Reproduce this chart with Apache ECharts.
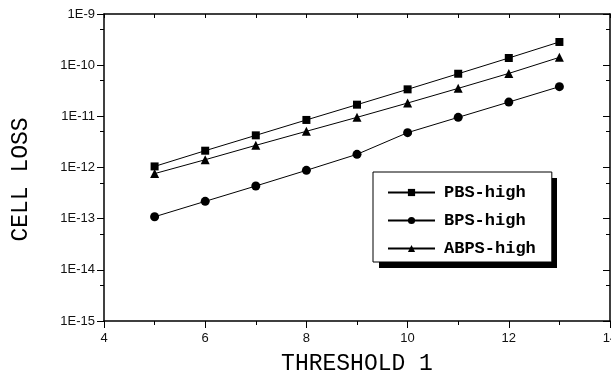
<!DOCTYPE html>
<html>
<head>
<meta charset="utf-8">
<script src="https://cdn.jsdelivr.net/npm/echarts@6/dist/echarts.min.js"></script>
<style>
  html, body { margin: 0; padding: 0; background: #fff; }
  #chart { width: 611px; height: 377px; }
</style>
</head>
<body>
<div id="chart"></div>
<script>
// Threshold values on the x axis
const thresholds = [5, 6, 7, 8, 9, 10, 11, 12, 13];

// Cell loss probability per scheme
const pbsHigh  = [1.05e-12, 2.13e-12, 4.25e-12, 8.5e-12, 1.69e-11, 3.37e-11, 6.8e-11, 1.38e-10, 2.84e-10];
const bpsHigh  = [1.09e-13, 2.18e-13, 4.35e-13, 8.8e-13, 1.81e-12, 4.8e-12, 9.55e-12, 1.9e-11, 3.8e-11];
const abpsHigh = [7.6e-13, 1.42e-12, 2.71e-12, 5.1e-12, 9.55e-12, 1.82e-11, 3.52e-11, 6.9e-11, 1.42e-10];

const seriesNames = ['PBS-high', 'BPS-high', 'ABPS-high'];

// Decade ticks and the "5" minor ticks of the log axis
const decadeTicks = [1e-15, 1e-14, 1e-13, 1e-12, 1e-11, 1e-10, 1e-9];
const minorTicks  = [5e-15, 5e-14, 5e-13, 5e-12, 5e-11, 5e-10];

const toPairs = ys => thresholds.map((x, i) => [x, ys[i]]);
const expLabel = v => '1E' + Math.round(Math.log10(v));

const tickFont = { fontFamily: 'Liberation Sans', fontSize: 13, color: '#111' };
const titleFont = { fontFamily: 'Liberation Mono', fontSize: 23, color: '#000' };
const axisLine = { show: true, lineStyle: { color: '#000', width: 1.5 } };

// Legend box geometry (the drop shadow sits behind it)
const legendBox = { left: 373, top: 172, width: 178, height: 90, shadow: 6 };

const chart = echarts.init(document.getElementById('chart'), null, { renderer: 'canvas' });

const yBase = {
  type: 'log', logBase: 10, min: 1e-15, max: 1e-9,
  splitLine: { show: false }, minorTick: { show: false }
};

chart.setOption({
  backgroundColor: '#fff',
  animation: false,
  grid: { left: 104, right: 1, top: 14, bottom: 56, containLabel: false, outerBoundsMode: 'none' },
  xAxis: [
    {
      type: 'value', position: 'bottom', min: 4, max: 14, interval: 2,
      axisLine: axisLine,
      axisTick: { show: true, length: 7, lineStyle: { color: '#000', width: 1 } },
      minorTick: { show: true, splitNumber: 2, length: 4, lineStyle: { color: '#000', width: 1 } },
      splitLine: { show: false },
      axisLabel: Object.assign({ margin: 11 }, tickFont),
      name: 'THRESHOLD 1', nameLocation: 'middle', nameGap: 31,
      nameTextStyle: titleFont
    },
    {
      type: 'value', position: 'top', min: 4, max: 14, interval: 1,
      axisLine: axisLine,
      axisTick: { show: true, inside: true, length: 4, lineStyle: { color: '#000', width: 1 } },
      splitLine: { show: false },
      axisLabel: { show: false }
    }
  ],
  yAxis: [
    Object.assign({}, yBase, {
      position: 'left',
      axisLine: axisLine,
      axisTick: { show: true, length: 7, customValues: decadeTicks, lineStyle: { color: '#000', width: 1 } },
      axisLabel: Object.assign({ margin: 9, customValues: decadeTicks, formatter: expLabel }, tickFont),
      name: 'CELL LOSS', nameLocation: 'middle', nameGap: 72,
      nameTextStyle: Object.assign({ padding: [0, 24, 0, 0] }, titleFont)
    }),
    Object.assign({}, yBase, {
      position: 'left',
      axisLine: { show: false },
      axisTick: { show: true, length: 4, customValues: minorTicks, lineStyle: { color: '#000', width: 1 } },
      axisLabel: { show: false }
    }),
    Object.assign({}, yBase, {
      position: 'right',
      axisLine: axisLine,
      axisTick: { show: true, inside: true, length: 7, customValues: decadeTicks, lineStyle: { color: '#000', width: 1 } },
      axisLabel: { show: false }
    }),
    Object.assign({}, yBase, {
      position: 'right',
      axisLine: { show: false },
      axisTick: { show: true, inside: true, length: 4, customValues: minorTicks, lineStyle: { color: '#000', width: 1 } },
      axisLabel: { show: false }
    })
  ],
  graphic: [{
    type: 'rect', z: 1, silent: true,
    shape: {
      x: legendBox.left + legendBox.shadow, y: legendBox.top + legendBox.shadow,
      width: legendBox.width, height: legendBox.height
    },
    style: { fill: '#000' }
  }],
  legend: {
    z: 10,
    orient: 'vertical',
    left: legendBox.left, top: legendBox.top,
    padding: [12, 16, 5, 14],
    itemWidth: 47, itemHeight: 9, itemGap: 11,
    backgroundColor: '#fff',
    borderColor: '#000', borderWidth: 1, borderRadius: 0,
    textStyle: { fontFamily: 'Liberation Mono', fontSize: 17, fontWeight: 'bold', color: '#000', lineHeight: 17, padding: [0, 0, 0, 4] },
    data: seriesNames
  },
  series: [
    { name: seriesNames[0], type: 'line', data: toPairs(pbsHigh), symbol: 'rect', symbolSize: 8 },
    { name: seriesNames[1], type: 'line', data: toPairs(bpsHigh), symbol: 'circle', symbolSize: 9 },
    { name: seriesNames[2], type: 'line', data: toPairs(abpsHigh), symbol: 'triangle', symbolSize: 9 }
  ].map(s => Object.assign(s, {
    xAxisIndex: 0, yAxisIndex: 0,
    lineStyle: { color: '#000', width: 1 },
    itemStyle: { color: '#000' },
    showSymbol: true
  }))
});
</script>
</body>
</html>
